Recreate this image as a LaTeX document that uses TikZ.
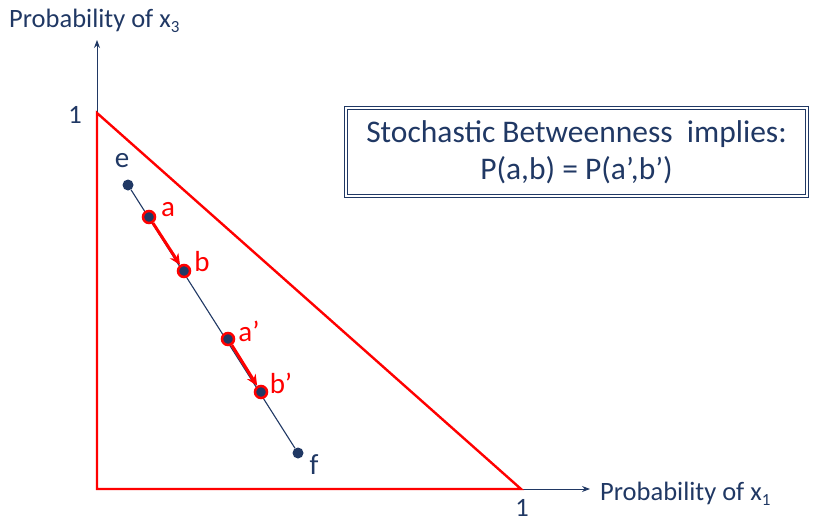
\documentclass[tikz,border=0pt]{standalone}
\usepackage{fontspec}
\setmainfont{Carlito}
\usetikzlibrary{arrows.meta}
\definecolor{navy}{HTML}{203864}
\definecolor{redc}{HTML}{FF0000}
\newcommand{\mysub}[1]{\raisebox{-5pt}{\fontsize{17}{18}\selectfont #1}}
\tikzset{
  axis/.style={navy, line width=1pt, -{Stealth[length=8pt,width=6pt]}},
  lbl/.style={text=navy, font=\fontsize{26.5}{30}\selectfont, inner sep=0pt},
  ptlbl/.style={font=\fontsize{29}{32}\selectfont, inner sep=0pt},
  bluept/.style={circle, fill=navy, minimum size=11pt, inner sep=0pt},
  redpt/.style={circle, fill=navy, draw=redc, line width=2.5pt, minimum size=12pt, inner sep=0pt},
  redarrow/.style={redc, line width=3pt, -{Stealth[length=11pt,width=10pt]}},
}
\begin{document}
\begin{tikzpicture}[x=1pt,y=-1pt]
\useasboundingbox (0,0) rectangle (813,524);
% axes
\coordinate (O) at (97,489);
\coordinate (Ytip) at (97,40);
\coordinate (Xtip) at (590,489);
\draw[axis] (O) -- (Ytip);
\draw[axis] (O) -- (Xtip);
% triangle
\coordinate (T1) at (97,113);
\coordinate (T2) at (521,489);
\draw[redc, line width=2.4pt, line join=miter] (T1) -- (O) -- (T2) -- cycle;
% axis labels
\node[lbl, anchor=base west] (ylab) at (9,28) {Probability of x\mysub{3}};
\node[lbl, anchor=base west] (xlab) at (600,500) {Probability of x\mysub{1}};
\node[lbl] (one1) at (75,115) {1};
\node[lbl] (one2) at (522,508) {1};
% box
\node[draw=navy, double=white, double distance=2pt, line width=0.8pt,
      minimum width=461pt, minimum height=88pt, text=navy, align=center,
      font=\fontsize{31.5}{37}\selectfont] (box) at (576.5,152)
      {Stochastic Betweenness\ \ implies:\\P(a,b) = P(a’,b’)};
% points
\node[bluept] (e) at (128,185) {};
\node[bluept] (f) at (298,453) {};
\draw[navy, line width=1.1pt] (e) -- (f);
\node[redpt] (a) at (149,217) {};
\node[redpt] (b) at (184,271) {};
\node[redpt] (ap) at (228,339) {};
\node[redpt] (bp) at (261,392) {};
\draw[redarrow] (a) -- (b);
\draw[redarrow] (ap) -- (bp);
% point labels
\node[ptlbl, text=navy] (le) at (122,161) {e};
\node[ptlbl, text=navy] (lf) at (314,465) {f};
\node[ptlbl, text=redc] (la) at (168,210) {a};
\node[ptlbl, text=redc] (lb) at (202,262) {b};
\node[ptlbl, text=redc] (lap) at (249,331) {a’};
\node[ptlbl, text=redc] (lbp) at (281,383) {b’};
\end{tikzpicture}
\end{document}
